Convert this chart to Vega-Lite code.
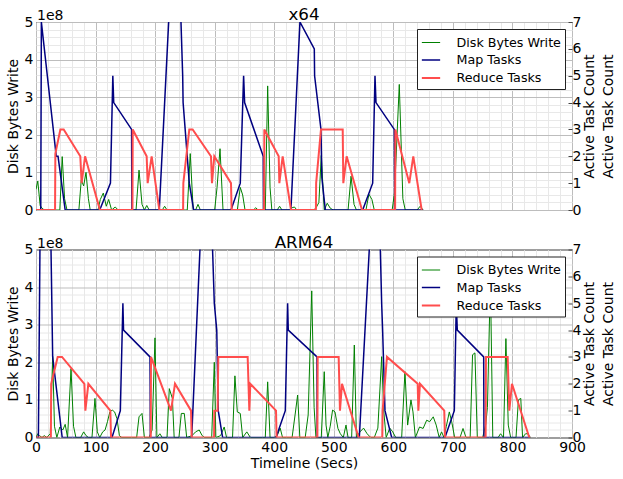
{
  "$schema": "https://vega.github.io/schema/vega-lite/v6.json",
  "padding": {"left": 5, "top": 6, "right": 2, "bottom": 4},
  "background": "white",
  "datasets": {
    "x64_disk": [
      {"t": 0, "b": 55000000}, {"t": 3, "b": 77000000}, {"t": 7, "b": 12000000}, {"t": 10, "b": 5000000}, {"t": 14, "b": 0},
      {"t": 40, "b": 0}, {"t": 44, "b": 142000000}, {"t": 48, "b": 30000000}, {"t": 52, "b": 0},
      {"t": 72, "b": 0}, {"t": 76, "b": 80000000}, {"t": 80, "b": 64000000}, {"t": 84, "b": 100000000}, {"t": 88, "b": 30000000}, {"t": 91, "b": 0},
      {"t": 104, "b": 0}, {"t": 108, "b": 28000000}, {"t": 113, "b": 45000000}, {"t": 118, "b": 10000000}, {"t": 122, "b": 28000000}, {"t": 127, "b": 0},
      {"t": 133, "b": 8000000}, {"t": 138, "b": 0}, {"t": 168, "b": 0}, {"t": 173, "b": 106000000}, {"t": 178, "b": 15000000}, {"t": 182, "b": 0},
      {"t": 186, "b": 12000000}, {"t": 190, "b": 0}, {"t": 212, "b": 0}, {"t": 216, "b": 10000000}, {"t": 220, "b": 0},
      {"t": 254, "b": 0}, {"t": 259, "b": 150000000}, {"t": 264, "b": 0}, {"t": 268, "b": 0}, {"t": 272, "b": 15000000}, {"t": 276, "b": 0},
      {"t": 300, "b": 0}, {"t": 304, "b": 60000000}, {"t": 309, "b": 163000000}, {"t": 314, "b": 0},
      {"t": 338, "b": 0}, {"t": 343, "b": 60000000}, {"t": 347, "b": 40000000}, {"t": 351, "b": 0},
      {"t": 365, "b": 0}, {"t": 369, "b": 6000000}, {"t": 373, "b": 0},
      {"t": 385, "b": 0}, {"t": 389, "b": 330000000}, {"t": 393, "b": 60000000}, {"t": 396, "b": 0},
      {"t": 405, "b": 0}, {"t": 409, "b": 10000000}, {"t": 413, "b": 0},
      {"t": 426, "b": 0}, {"t": 430, "b": 6000000}, {"t": 434, "b": 8000000}, {"t": 438, "b": 0},
      {"t": 466, "b": 0}, {"t": 470, "b": 5000000}, {"t": 475, "b": 20000000}, {"t": 479, "b": 145000000}, {"t": 484, "b": 0},
      {"t": 489, "b": 18000000}, {"t": 494, "b": 5000000}, {"t": 499, "b": 0},
      {"t": 524, "b": 0}, {"t": 529, "b": 90000000}, {"t": 534, "b": 15000000}, {"t": 538, "b": 0},
      {"t": 554, "b": 0}, {"t": 559, "b": 42000000}, {"t": 564, "b": 28000000}, {"t": 568, "b": 0},
      {"t": 598, "b": 0}, {"t": 602, "b": 46000000}, {"t": 610, "b": 334000000}, {"t": 616, "b": 30000000}, {"t": 620, "b": 0},
      {"t": 640, "b": 0}, {"t": 645, "b": 10000000}, {"t": 650, "b": 0}
    ],
    "x64_tasks": [
      {"t": 0, "n": 0, "series": "Map Tasks"}, {"t": 8, "n": 0, "series": "Map Tasks"}, {"t": 9, "n": 7, "series": "Map Tasks"},
      {"t": 34, "n": 2, "series": "Map Tasks"}, {"t": 37, "n": 2, "series": "Map Tasks"}, {"t": 49, "n": 0, "series": "Map Tasks"},
      {"t": 107, "n": 0, "series": "Map Tasks"}, {"t": 125, "n": 1, "series": "Map Tasks"}, {"t": 129, "n": 5, "series": "Map Tasks"},
      {"t": 130.5, "n": 4, "series": "Map Tasks"}, {"t": 160.5, "n": 3, "series": "Map Tasks"}, {"t": 161, "n": 0, "series": "Map Tasks"},
      {"t": 207, "n": 0, "series": "Map Tasks"}, {"t": 225, "n": 8, "series": "Map Tasks"}, {"t": 242, "n": 8, "series": "Map Tasks"},
      {"t": 246.3, "n": 5, "series": "Map Tasks"}, {"t": 247, "n": 4, "series": "Map Tasks"}, {"t": 257.4, "n": 1, "series": "Map Tasks"},
      {"t": 264.7, "n": 0, "series": "Map Tasks"}, {"t": 327.4, "n": 0, "series": "Map Tasks"}, {"t": 343, "n": 1, "series": "Map Tasks"},
      {"t": 348.6, "n": 5, "series": "Map Tasks"}, {"t": 350.3, "n": 4, "series": "Map Tasks"}, {"t": 381.6, "n": 2, "series": "Map Tasks"},
      {"t": 382, "n": 0, "series": "Map Tasks"}, {"t": 428, "n": 0, "series": "Map Tasks"}, {"t": 443.2, "n": 7, "series": "Map Tasks"},
      {"t": 467.3, "n": 6, "series": "Map Tasks"}, {"t": 467.8, "n": 5, "series": "Map Tasks"}, {"t": 478.5, "n": 3, "series": "Map Tasks"},
      {"t": 480, "n": 1.2, "series": "Map Tasks"}, {"t": 485.8, "n": 0, "series": "Map Tasks"}, {"t": 548.5, "n": 0, "series": "Map Tasks"},
      {"t": 565.3, "n": 1, "series": "Map Tasks"}, {"t": 569.2, "n": 5, "series": "Map Tasks"}, {"t": 570.9, "n": 4, "series": "Map Tasks"},
      {"t": 601.6, "n": 3, "series": "Map Tasks"}, {"t": 601.9, "n": 2, "series": "Map Tasks"}, {"t": 602.3, "n": 0, "series": "Map Tasks"},
      {"t": 650, "n": 0, "series": "Map Tasks"},
      {"t": 0, "n": 0, "series": "Reduce Tasks"}, {"t": 32, "n": 0, "series": "Reduce Tasks"}, {"t": 32.5, "n": 2.1, "series": "Reduce Tasks"},
      {"t": 40.9, "n": 3, "series": "Reduce Tasks"}, {"t": 46.5, "n": 3, "series": "Reduce Tasks"}, {"t": 74.4, "n": 2, "series": "Reduce Tasks"},
      {"t": 76.6, "n": 1, "series": "Reduce Tasks"}, {"t": 82.4, "n": 2, "series": "Reduce Tasks"}, {"t": 107.3, "n": 0, "series": "Reduce Tasks"},
      {"t": 162, "n": 0, "series": "Reduce Tasks"}, {"t": 162.4, "n": 3, "series": "Reduce Tasks"}, {"t": 185.8, "n": 2, "series": "Reduce Tasks"},
      {"t": 187.5, "n": 1, "series": "Reduce Tasks"}, {"t": 194.2, "n": 2, "series": "Reduce Tasks"}, {"t": 207.1, "n": 0, "series": "Reduce Tasks"},
      {"t": 247, "n": 0, "series": "Reduce Tasks"}, {"t": 247.4, "n": 1, "series": "Reduce Tasks"}, {"t": 257.4, "n": 3, "series": "Reduce Tasks"},
      {"t": 263, "n": 3, "series": "Reduce Tasks"}, {"t": 293.8, "n": 2, "series": "Reduce Tasks"}, {"t": 295.5, "n": 1, "series": "Reduce Tasks"},
      {"t": 299.4, "n": 2, "series": "Reduce Tasks"}, {"t": 327.4, "n": 1, "series": "Reduce Tasks"}, {"t": 328.5, "n": 0, "series": "Reduce Tasks"},
      {"t": 383, "n": 0, "series": "Reduce Tasks"}, {"t": 383.4, "n": 3, "series": "Reduce Tasks"}, {"t": 407.5, "n": 2, "series": "Reduce Tasks"},
      {"t": 408.6, "n": 1, "series": "Reduce Tasks"}, {"t": 414.2, "n": 2, "series": "Reduce Tasks"}, {"t": 428.2, "n": 0, "series": "Reduce Tasks"},
      {"t": 470, "n": 0, "series": "Reduce Tasks"}, {"t": 470.4, "n": 1, "series": "Reduce Tasks"}, {"t": 478.5, "n": 3, "series": "Reduce Tasks"},
      {"t": 515, "n": 3, "series": "Reduce Tasks"}, {"t": 516, "n": 1, "series": "Reduce Tasks"}, {"t": 521.6, "n": 2, "series": "Reduce Tasks"},
      {"t": 547.4, "n": 0, "series": "Reduce Tasks"}, {"t": 603, "n": 0, "series": "Reduce Tasks"}, {"t": 603.4, "n": 3, "series": "Reduce Tasks"},
      {"t": 626.8, "n": 1, "series": "Reduce Tasks"}, {"t": 633.5, "n": 2, "series": "Reduce Tasks"}, {"t": 647.6, "n": 0, "series": "Reduce Tasks"}
    ],
    "arm_disk": [
      {"t": 0, "b": 0}, {"t": 3, "b": 10000000}, {"t": 6, "b": 5000000}, {"t": 10, "b": 0}, {"t": 14, "b": 5000000}, {"t": 18, "b": 0},
      {"t": 24, "b": 10000000}, {"t": 28, "b": 215000000}, {"t": 31, "b": 30000000}, {"t": 35, "b": 0}, {"t": 40, "b": 28000000},
      {"t": 45, "b": 20000000}, {"t": 49, "b": 35000000}, {"t": 53, "b": 0}, {"t": 58.8, "b": 183000000}, {"t": 63, "b": 30000000},
      {"t": 67, "b": 0}, {"t": 75, "b": 0}, {"t": 80, "b": 15000000}, {"t": 84, "b": 5000000}, {"t": 88, "b": 0},
      {"t": 94, "b": 0}, {"t": 99, "b": 104000000}, {"t": 103, "b": 15000000}, {"t": 107, "b": 0}, {"t": 112, "b": 15000000},
      {"t": 116, "b": 20000000}, {"t": 120, "b": 42000000}, {"t": 124, "b": 68000000}, {"t": 128, "b": 73000000}, {"t": 132, "b": 68000000},
      {"t": 136, "b": 50000000}, {"t": 140, "b": 5000000}, {"t": 144, "b": 0}, {"t": 169, "b": 0}, {"t": 173, "b": 55000000},
      {"t": 178, "b": 64000000}, {"t": 182, "b": 0}, {"t": 190, "b": 0}, {"t": 195, "b": 20000000}, {"t": 199.8, "b": 265000000},
      {"t": 203, "b": 0}, {"t": 208, "b": 10000000}, {"t": 212, "b": 0}, {"t": 220, "b": 0}, {"t": 223.8, "b": 130000000},
      {"t": 229, "b": 104000000}, {"t": 232, "b": 0}, {"t": 240, "b": 0}, {"t": 244, "b": 64000000}, {"t": 249, "b": 64000000},
      {"t": 253, "b": 0}, {"t": 262, "b": 5000000}, {"t": 268, "b": 15000000}, {"t": 274, "b": 20000000}, {"t": 279, "b": 5000000},
      {"t": 283, "b": 0}, {"t": 295, "b": 0}, {"t": 299.4, "b": 200000000}, {"t": 302, "b": 0}, {"t": 310, "b": 5000000},
      {"t": 316, "b": 28000000}, {"t": 320, "b": 0}, {"t": 330, "b": 0}, {"t": 334, "b": 164000000}, {"t": 338, "b": 68000000},
      {"t": 343, "b": 64000000}, {"t": 347, "b": 0}, {"t": 354, "b": 15000000}, {"t": 360, "b": 0}, {"t": 385, "b": 0},
      {"t": 389, "b": 148000000}, {"t": 393, "b": 0}, {"t": 400, "b": 0}, {"t": 405, "b": 5000000}, {"t": 410, "b": 25000000},
      {"t": 414, "b": 0}, {"t": 430, "b": 0}, {"t": 435, "b": 60000000}, {"t": 439.3, "b": 113000000}, {"t": 443, "b": 0},
      {"t": 452, "b": 0}, {"t": 457, "b": 60000000}, {"t": 463, "b": 390000000}, {"t": 467, "b": 80000000}, {"t": 470, "b": 0},
      {"t": 479, "b": 0}, {"t": 484, "b": 175000000}, {"t": 487, "b": 33000000}, {"t": 490, "b": 0}, {"t": 494, "b": 30000000},
      {"t": 498, "b": 73000000}, {"t": 502, "b": 68000000}, {"t": 507, "b": 24000000}, {"t": 511, "b": 10000000}, {"t": 516, "b": 0},
      {"t": 520.5, "b": 33000000}, {"t": 524, "b": 0}, {"t": 530, "b": 0}, {"t": 534.5, "b": 246000000}, {"t": 538, "b": 0},
      {"t": 544, "b": 15000000}, {"t": 550, "b": 25000000}, {"t": 556, "b": 10000000}, {"t": 562, "b": 0}, {"t": 568, "b": 0},
      {"t": 574, "b": 25000000}, {"t": 580.4, "b": 215000000}, {"t": 584, "b": 68000000}, {"t": 588, "b": 0}, {"t": 594, "b": 25000000},
      {"t": 599, "b": 15000000}, {"t": 604, "b": 0}, {"t": 614, "b": 0}, {"t": 619.5, "b": 175000000}, {"t": 624, "b": 33000000},
      {"t": 629.6, "b": 100000000}, {"t": 633, "b": 68000000}, {"t": 637, "b": 0}, {"t": 644, "b": 28000000}, {"t": 650, "b": 24000000},
      {"t": 656, "b": 46000000}, {"t": 661, "b": 42000000}, {"t": 667, "b": 55000000}, {"t": 672, "b": 33000000}, {"t": 677, "b": 0},
      {"t": 681, "b": 15000000}, {"t": 685, "b": 0}, {"t": 689, "b": 30000000}, {"t": 694, "b": 68000000}, {"t": 698, "b": 42000000},
      {"t": 703, "b": 0}, {"t": 712, "b": 0}, {"t": 717, "b": 24000000}, {"t": 722, "b": 0}, {"t": 729, "b": 0},
      {"t": 733, "b": 220000000}, {"t": 737, "b": 225000000}, {"t": 741, "b": 0}, {"t": 750, "b": 0}, {"t": 755, "b": 33000000},
      {"t": 758, "b": 80000000}, {"t": 763, "b": 420000000}, {"t": 767, "b": 0}, {"t": 776, "b": 0}, {"t": 780, "b": 10000000},
      {"t": 785, "b": 0}, {"t": 789, "b": 263000000}, {"t": 793, "b": 33000000}, {"t": 797, "b": 0}, {"t": 806, "b": 0},
      {"t": 810, "b": 100000000}, {"t": 814, "b": 104000000}, {"t": 817, "b": 0}, {"t": 822, "b": 10000000}, {"t": 826, "b": 10000000},
      {"t": 830, "b": 0}
    ],
    "arm_tasks": [
      {"t": 0, "n": 0, "series": "Map Tasks"}, {"t": 4, "n": 0, "series": "Map Tasks"}, {"t": 7, "n": 8, "series": "Map Tasks"},
      {"t": 24.5, "n": 8, "series": "Map Tasks"}, {"t": 28, "n": 3, "series": "Map Tasks"}, {"t": 44, "n": 0, "series": "Map Tasks"},
      {"t": 127.6, "n": 0, "series": "Map Tasks"}, {"t": 141.6, "n": 1, "series": "Map Tasks"}, {"t": 145.9, "n": 5, "series": "Map Tasks"},
      {"t": 147, "n": 4, "series": "Map Tasks"}, {"t": 191.4, "n": 3, "series": "Map Tasks"}, {"t": 191.7, "n": 2, "series": "Map Tasks"},
      {"t": 192, "n": 0, "series": "Map Tasks"}, {"t": 261.4, "n": 0, "series": "Map Tasks"}, {"t": 277.3, "n": 8, "series": "Map Tasks"},
      {"t": 295, "n": 8, "series": "Map Tasks"}, {"t": 299.4, "n": 5, "series": "Map Tasks"}, {"t": 303.5, "n": 4, "series": "Map Tasks"},
      {"t": 306, "n": 1, "series": "Map Tasks"}, {"t": 313.4, "n": 0, "series": "Map Tasks"}, {"t": 403, "n": 0, "series": "Map Tasks"},
      {"t": 418.6, "n": 1, "series": "Map Tasks"}, {"t": 422.5, "n": 5, "series": "Map Tasks"}, {"t": 423.6, "n": 4, "series": "Map Tasks"},
      {"t": 471.8, "n": 3, "series": "Map Tasks"}, {"t": 472.2, "n": 0, "series": "Map Tasks"}, {"t": 542.9, "n": 0, "series": "Map Tasks"},
      {"t": 562, "n": 8, "series": "Map Tasks"}, {"t": 577, "n": 8, "series": "Map Tasks"}, {"t": 580.4, "n": 5, "series": "Map Tasks"},
      {"t": 582, "n": 4, "series": "Map Tasks"}, {"t": 586, "n": 1, "series": "Map Tasks"}, {"t": 597.2, "n": 0, "series": "Map Tasks"},
      {"t": 686.7, "n": 0, "series": "Map Tasks"}, {"t": 702.4, "n": 1, "series": "Map Tasks"}, {"t": 705.7, "n": 5, "series": "Map Tasks"},
      {"t": 707.4, "n": 4, "series": "Map Tasks"}, {"t": 751.7, "n": 3, "series": "Map Tasks"}, {"t": 752.2, "n": 0, "series": "Map Tasks"},
      {"t": 830, "n": 0, "series": "Map Tasks"},
      {"t": 0, "n": 0, "series": "Reduce Tasks"}, {"t": 25, "n": 0, "series": "Reduce Tasks"}, {"t": 25.5, "n": 2, "series": "Reduce Tasks"},
      {"t": 36.4, "n": 3, "series": "Reduce Tasks"}, {"t": 43.7, "n": 3, "series": "Reduce Tasks"}, {"t": 81.2, "n": 2, "series": "Reduce Tasks"},
      {"t": 82.9, "n": 1, "series": "Reduce Tasks"}, {"t": 87.9, "n": 2, "series": "Reduce Tasks"}, {"t": 124.8, "n": 1, "series": "Reduce Tasks"},
      {"t": 126, "n": 0, "series": "Reduce Tasks"}, {"t": 192.7, "n": 0, "series": "Reduce Tasks"}, {"t": 193.1, "n": 3, "series": "Reduce Tasks"},
      {"t": 226.7, "n": 1, "series": "Reduce Tasks"}, {"t": 233.4, "n": 2, "series": "Reduce Tasks"}, {"t": 260.3, "n": 1, "series": "Reduce Tasks"},
      {"t": 261.4, "n": 0, "series": "Reduce Tasks"}, {"t": 299, "n": 0, "series": "Reduce Tasks"}, {"t": 299.4, "n": 1, "series": "Reduce Tasks"},
      {"t": 305, "n": 1, "series": "Reduce Tasks"}, {"t": 306.1, "n": 3, "series": "Reduce Tasks"}, {"t": 355.4, "n": 3, "series": "Reduce Tasks"},
      {"t": 358.2, "n": 1, "series": "Reduce Tasks"}, {"t": 359.9, "n": 2, "series": "Reduce Tasks"}, {"t": 403, "n": 1, "series": "Reduce Tasks"},
      {"t": 404, "n": 0, "series": "Reduce Tasks"}, {"t": 472.5, "n": 0, "series": "Reduce Tasks"}, {"t": 473, "n": 3, "series": "Reduce Tasks"},
      {"t": 508.2, "n": 3, "series": "Reduce Tasks"}, {"t": 510.4, "n": 1, "series": "Reduce Tasks"}, {"t": 513.8, "n": 2, "series": "Reduce Tasks"},
      {"t": 541.8, "n": 0, "series": "Reduce Tasks"}, {"t": 581.5, "n": 0, "series": "Reduce Tasks"}, {"t": 582, "n": 1, "series": "Reduce Tasks"},
      {"t": 589.3, "n": 3, "series": "Reduce Tasks"}, {"t": 640.9, "n": 2, "series": "Reduce Tasks"}, {"t": 642, "n": 1, "series": "Reduce Tasks"},
      {"t": 644.7, "n": 2, "series": "Reduce Tasks"}, {"t": 685.5, "n": 1, "series": "Reduce Tasks"}, {"t": 686.7, "n": 0, "series": "Reduce Tasks"},
      {"t": 755, "n": 0, "series": "Reduce Tasks"}, {"t": 755.5, "n": 3, "series": "Reduce Tasks"}, {"t": 792, "n": 3, "series": "Reduce Tasks"},
      {"t": 794.7, "n": 1, "series": "Reduce Tasks"}, {"t": 799.2, "n": 2, "series": "Reduce Tasks"}, {"t": 828.3, "n": 0, "series": "Reduce Tasks"},
      {"t": 830, "n": 0, "series": "Reduce Tasks"}
    ]
  },
  "config": {
    "font": "DejaVu Sans",
    "view": {"stroke": "black", "strokeWidth": 1},
    "axis": {
      "domain": false, "ticks": false, "labelFont": "DejaVu Sans", "labelFontSize": 14, "labelColor": "black",
      "titleFont": "DejaVu Sans", "titleFontSize": 14, "titleFontWeight": "normal", "titleColor": "black",
      "labelFlush": false, "labelOverlap": false, "gridOpacity": 1, "gridWidth": 1
    },
    "title": {"font": "DejaVu Sans", "fontSize": 16.7, "fontWeight": "normal", "color": "black", "frame": "group", "baseline": "alphabetic", "offset": -15},
    "legend": {
      "orient": "none", "legendX": 381, "legendY": 7, "title": null,
      "labelFont": "DejaVu Sans", "labelFontSize": 12.7, "labelColor": "black",
      "symbolType": "stroke", "symbolSize": 335, "labelOffset": 15, "rowPadding": 0.5, "padding": 3.5,
      "fillColor": "white", "strokeColor": "#222222", "strokeWidth": 1, "cornerRadius": 0,
      "labelExpr": "datum.label + '  '"
    }
  },
  "spacing": 15.5,
  "resolve": {"legend": {"color": "independent", "strokeWidth": "independent"}},
  "vconcat": [
    {
      "title": "x64",
      "width": 536,
      "height": 188,
      "encoding": {
        "x": {
          "field": "t", "type": "quantitative", "scale": {"domain": [0, 900], "nice": false},
          "axis": {
            "title": null, "labels": false, "minExtent": 0, "maxExtent": 0,
            "values": [0,20,40,60,80,100,120,140,160,180,200,220,240,260,280,300,320,340,360,380,400,420,440,460,480,500,520,540,560,580,600,620,640,660,680,700,720,740,760,780,800,820,840,860,880,900],
            "gridColor": {"condition": {"test": "datum.value % 100 === 0", "value": "#bdbdbd"}, "value": "#e8e8e8"}
          }
        }
      },
      "layer": [
        {
          "data": {"name": "x64_disk"},
          "layer": [
            {
              "mark": {"type": "line", "clip": true},
              "encoding": {
                "y": {
                  "field": "b", "type": "quantitative", "scale": {"domain": [0, 500000000], "nice": false},
                  "axis": {
                    "title": "Disk Bytes Write", "orient": "left", "labelPadding": 3, "titlePadding": 4,
                    "values": [0,20000000,40000000,60000000,80000000,100000000,120000000,140000000,160000000,180000000,200000000,220000000,240000000,260000000,280000000,300000000,320000000,340000000,360000000,380000000,400000000,420000000,440000000,460000000,480000000,500000000],
                    "labelExpr": "datum.value % 100000000 === 0 ? format(datum.value / 100000000, 'd') : ''",
                    "gridColor": {"condition": {"test": "datum.value % 100000000 === 0", "value": "#bdbdbd"}, "value": "#e8e8e8"}
                  }
                },
                "color": {"datum": "Disk Bytes Write", "type": "nominal", "scale": {"domain": ["Disk Bytes Write", "Map Tasks", "Reduce Tasks"], "range": ["#008000", "#000080", "#ff4d4d"]}},
                "strokeWidth": {"datum": "Disk Bytes Write", "type": "nominal", "scale": {"domain": ["Disk Bytes Write", "Map Tasks", "Reduce Tasks"], "range": [1, 2, 2]}}
              }
            },
            {
              "data": {"values": [{"t": 0, "b": 500000000}]},
              "mark": {"type": "text", "text": "1e8", "align": "left", "baseline": "alphabetic", "dx": 1, "dy": -2, "fontSize": 14, "font": "DejaVu Sans", "color": "black"},
              "encoding": {
                "y": {
                  "field": "b", "type": "quantitative", "scale": {"domain": [0, 500000000], "nice": false},
                  "axis": {
                    "title": "Disk Bytes Write", "orient": "left", "labelPadding": 3, "titlePadding": 4,
                    "values": [0,20000000,40000000,60000000,80000000,100000000,120000000,140000000,160000000,180000000,200000000,220000000,240000000,260000000,280000000,300000000,320000000,340000000,360000000,380000000,400000000,420000000,440000000,460000000,480000000,500000000],
                    "labelExpr": "datum.value % 100000000 === 0 ? format(datum.value / 100000000, 'd') : ''",
                    "gridColor": {"condition": {"test": "datum.value % 100000000 === 0", "value": "#bdbdbd"}, "value": "#e8e8e8"}
                  }
                }
              }
            }
          ]
        },
        {
          "data": {"name": "x64_tasks"},
          "mark": {"type": "line", "clip": true},
          "encoding": {
            "y": {
              "field": "n", "type": "quantitative", "scale": {"domain": [0, 7], "nice": false},
              "axis": {"orient": "right", "title": ["Active Task Count", "Active Task Count"], "titleAngle": 270, "titleLineHeight": 19, "grid": false, "values": [0,1,2,3,4,5,6,7], "format": "d", "ticks": true, "tickSize": -4, "tickColor": "#444444", "labelPadding": 4, "titlePadding": -3}
            },
            "color": {"field": "series", "type": "nominal", "scale": {"domain": ["Disk Bytes Write", "Map Tasks", "Reduce Tasks"], "range": ["#008000", "#000080", "#ff4d4d"]}},
            "strokeWidth": {"field": "series", "type": "nominal", "scale": {"domain": ["Disk Bytes Write", "Map Tasks", "Reduce Tasks"], "range": [1, 2, 2]}}
          }
        }
      ],
      "resolve": {"scale": {"y": "independent"}}
    },
    {
      "title": "ARM64",
      "width": 536,
      "height": 188,
      "encoding": {
        "x": {
          "field": "t", "type": "quantitative", "scale": {"domain": [0, 900], "nice": false},
          "axis": {
            "title": "Timeline (Secs)", "labelPadding": 3, "titlePadding": 2,
            "values": [0,20,40,60,80,100,120,140,160,180,200,220,240,260,280,300,320,340,360,380,400,420,440,460,480,500,520,540,560,580,600,620,640,660,680,700,720,740,760,780,800,820,840,860,880,900],
            "labelExpr": "datum.value % 100 === 0 ? datum.label : ''",
            "gridColor": {"condition": {"test": "datum.value % 100 === 0", "value": "#bdbdbd"}, "value": "#e8e8e8"}
          }
        }
      },
      "layer": [
        {
          "data": {"name": "arm_disk"},
          "layer": [
            {
              "mark": {"type": "line", "clip": true},
              "encoding": {
                "y": {
                  "field": "b", "type": "quantitative", "scale": {"domain": [0, 500000000], "nice": false},
                  "axis": {
                    "title": "Disk Bytes Write", "orient": "left", "labelPadding": 3, "titlePadding": 4,
                    "values": [0,20000000,40000000,60000000,80000000,100000000,120000000,140000000,160000000,180000000,200000000,220000000,240000000,260000000,280000000,300000000,320000000,340000000,360000000,380000000,400000000,420000000,440000000,460000000,480000000,500000000],
                    "labelExpr": "datum.value % 100000000 === 0 ? format(datum.value / 100000000, 'd') : ''",
                    "gridColor": {"condition": {"test": "datum.value % 100000000 === 0", "value": "#bdbdbd"}, "value": "#e8e8e8"}
                  }
                },
                "color": {"datum": "Disk Bytes Write", "type": "nominal", "scale": {"domain": ["Disk Bytes Write", "Map Tasks", "Reduce Tasks"], "range": ["#008000", "#000080", "#ff4d4d"]}},
                "strokeWidth": {"datum": "Disk Bytes Write", "type": "nominal", "scale": {"domain": ["Disk Bytes Write", "Map Tasks", "Reduce Tasks"], "range": [1, 2, 2]}}
              }
            },
            {
              "data": {"values": [{"t": 0, "b": 500000000}]},
              "mark": {"type": "text", "text": "1e8", "align": "left", "baseline": "alphabetic", "dx": 1, "dy": -2, "fontSize": 14, "font": "DejaVu Sans", "color": "black"},
              "encoding": {
                "y": {
                  "field": "b", "type": "quantitative", "scale": {"domain": [0, 500000000], "nice": false},
                  "axis": {
                    "title": "Disk Bytes Write", "orient": "left", "labelPadding": 3, "titlePadding": 4,
                    "values": [0,20000000,40000000,60000000,80000000,100000000,120000000,140000000,160000000,180000000,200000000,220000000,240000000,260000000,280000000,300000000,320000000,340000000,360000000,380000000,400000000,420000000,440000000,460000000,480000000,500000000],
                    "labelExpr": "datum.value % 100000000 === 0 ? format(datum.value / 100000000, 'd') : ''",
                    "gridColor": {"condition": {"test": "datum.value % 100000000 === 0", "value": "#bdbdbd"}, "value": "#e8e8e8"}
                  }
                }
              }
            }
          ]
        },
        {
          "data": {"name": "arm_tasks"},
          "mark": {"type": "line", "clip": true},
          "encoding": {
            "y": {
              "field": "n", "type": "quantitative", "scale": {"domain": [0, 7], "nice": false},
              "axis": {"orient": "right", "title": ["Active Task Count", "Active Task Count"], "titleAngle": 270, "titleLineHeight": 19, "grid": false, "values": [0,1,2,3,4,5,6,7], "format": "d", "ticks": true, "tickSize": -4, "tickColor": "#444444", "labelPadding": 4, "titlePadding": -3}
            },
            "color": {"field": "series", "type": "nominal", "scale": {"domain": ["Disk Bytes Write", "Map Tasks", "Reduce Tasks"], "range": ["#008000", "#000080", "#ff4d4d"]}},
            "strokeWidth": {"field": "series", "type": "nominal", "scale": {"domain": ["Disk Bytes Write", "Map Tasks", "Reduce Tasks"], "range": [1, 2, 2]}}
          }
        }
      ],
      "resolve": {"scale": {"y": "independent"}}
    }
  ]
}
